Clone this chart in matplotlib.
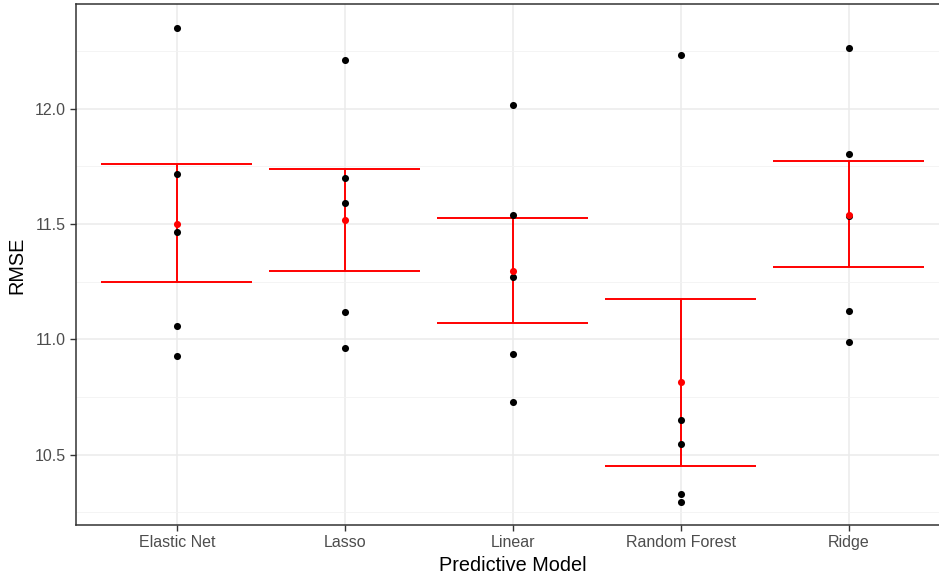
import numpy as np
import matplotlib
matplotlib.use("Agg")
import matplotlib.pyplot as plt
from matplotlib.ticker import MultipleLocator

plt.rcParams['font.family'] = ['Liberation Sans', 'DejaVu Sans']

# Data
models = ["Elastic Net", "Lasso", "Linear", "Random Forest", "Ridge"]
rmse_points = [
    [12.351, 11.716, 11.466, 11.058, 10.927],
    [12.212, 11.698, 11.593, 11.120, 10.963],
    [12.015, 11.538, 11.269, 10.937, 10.727],
    [12.233, 10.651, 10.548, 10.331, 10.295],
    [12.264, 11.802, 11.536, 11.122, 10.987],
]
rmse_mean = [11.502, 11.518, 11.296, 10.814, 11.540]
bar_lower = [11.249, 11.296, 11.071, 10.451, 11.313]
bar_upper = [11.759, 11.739, 11.525, 11.174, 11.773]

fig = plt.figure(figsize=(9.39, 5.76), dpi=100)
ax = fig.add_axes([0.0809, 0.088, 0.9304, 0.9045])

x = np.arange(1, len(models) + 1)

# gridlines (theme_bw look)
ax.set_axisbelow(True)
ax.yaxis.set_minor_locator(MultipleLocator(0.25))
ax.grid(True, which="major", color="#EBEBEB", linewidth=1.1)
ax.grid(True, which="minor", axis="y", color="#F2F2F2", linewidth=0.6)

# error bars
ax.vlines(x, bar_lower, bar_upper, color="#FF0000", linewidth=1.4, zorder=3)
ax.hlines(bar_lower, x - 0.45, x + 0.45, color="#FF0000", linewidth=1.4, zorder=3)
ax.hlines(bar_upper, x - 0.45, x + 0.45, color="#FF0000", linewidth=1.4, zorder=3)

# individual points
for xi, pts in zip(x, rmse_points):
    ax.scatter([xi] * len(pts), pts, color="black", s=26, linewidths=0, zorder=4)

# means
ax.scatter(x, rmse_mean, color="#FF0000", s=26, linewidths=0, zorder=5)

ax.set_xlim(0.4, 5.6)
ax.set_ylim(10.194, 12.4525)
ax.set_xticks(x)
ax.set_xticklabels(models)
ax.set_yticks([10.5, 11.0, 11.5, 12.0])
ax.set_yticklabels(["10.5", "11.0", "11.5", "12.0"])

ax.tick_params(axis="both", which="major", length=4, width=1, color="#333333",
               labelcolor="#4D4D4D", labelsize=11.5, pad=3)
ax.tick_params(axis="both", which="minor", length=0)

for side in ["left", "bottom", "top"]:
    ax.spines[side].set_color("#333333")
    ax.spines[side].set_linewidth(1.1)
ax.spines["right"].set_visible(False)

ax.set_xlabel("Predictive Model", fontsize=14.3, color="black", labelpad=4)
ax.set_ylabel("RMSE", fontsize=14.3, color="black", labelpad=6)

fig.savefig("out.png", dpi=100)
